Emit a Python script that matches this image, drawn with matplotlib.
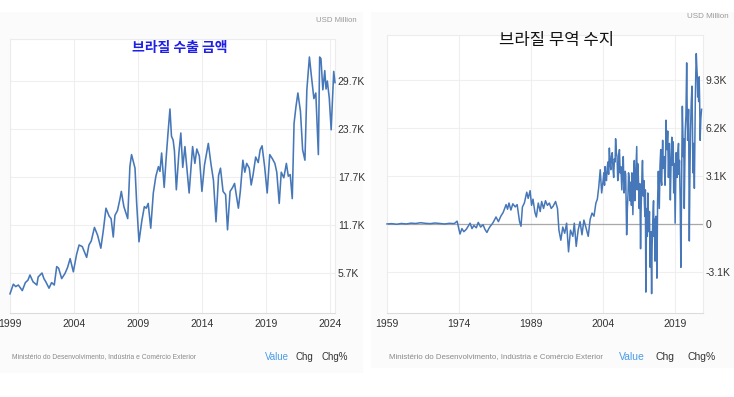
import matplotlib
matplotlib.use("Agg")
import matplotlib.pyplot as plt
from matplotlib.patches import Rectangle

# ---------------- data ----------------
exp_years = [1999.0, 1999.26, 1999.45, 1999.65, 1999.96, 2000.2, 2000.4, 2000.56, 2000.8, 2001.1,
             2001.2, 2001.5, 2001.65, 2001.8, 2002.05, 2002.25, 2002.46, 2002.65, 2002.8, 2003.04,
             2003.3, 2003.5, 2003.7, 2003.95, 2004.2, 2004.4, 2004.65, 2004.99, 2005.17, 2005.35,
             2005.6, 2005.85, 2006.1, 2006.3, 2006.5, 2006.75, 2006.9, 2007.07, 2007.2, 2007.4,
             2007.6, 2007.7, 2007.9, 2008.2, 2008.37, 2008.5, 2008.77, 2008.9, 2009.08, 2009.3,
             2009.5, 2009.65, 2009.8, 2010.0, 2010.2, 2010.4, 2010.6, 2010.72, 2010.85, 2011.05,
             2011.2, 2011.35, 2011.5, 2011.62, 2011.75, 2011.85, 2012.0, 2012.2, 2012.35, 2012.5,
             2012.67, 2012.8, 2013.0, 2013.27, 2013.45, 2013.6, 2013.8, 2014.0, 2014.2, 2014.37,
             2014.5, 2014.7, 2014.9, 2015.1, 2015.3, 2015.45, 2015.65, 2015.85, 2016.0, 2016.2,
             2016.4, 2016.55, 2016.7, 2016.85, 2017.0, 2017.2, 2017.35, 2017.5, 2017.7, 2017.85,
             2018.0, 2018.2, 2018.4, 2018.55, 2018.7, 2018.9, 2019.1, 2019.3, 2019.5, 2019.7,
             2019.85, 2020.04, 2020.2, 2020.4, 2020.6, 2020.75, 2020.9, 2021.06, 2021.2, 2021.35,
             2021.5, 2021.7, 2021.87, 2022.05, 2022.2, 2022.4, 2022.55, 2022.75, 2022.9, 2023.1,
             2023.2, 2023.3, 2023.45, 2023.6, 2023.7, 2023.8, 2023.95, 2024.1, 2024.3, 2024.4]
exp_values = [3.1, 4.3, 4.0, 4.2, 3.5, 4.5, 4.8, 5.45, 4.6, 4.2,
              5.2, 5.7, 5.0, 4.6, 3.8, 4.5, 4.2, 6.5, 6.3, 5.0,
              5.65, 6.4, 7.5, 5.85, 8.0, 9.2, 9.0, 7.65, 9.2, 9.7,
              11.4, 10.4, 8.8, 11.1, 13.8, 12.8, 12.5, 10.2, 12.9, 13.5,
              15.0, 15.9, 14.0, 12.5, 19.0, 20.5, 18.8, 14.4, 9.6, 12.2,
              14.0, 13.8, 14.4, 11.3, 15.7, 17.8, 19.0, 18.4, 20.7, 16.4,
              20.0, 23.2, 26.2, 22.8, 22.3, 21.0, 16.1, 20.7, 23.2, 18.9,
              21.5, 19.2, 15.7, 21.5, 19.4, 21.2, 20.3, 15.9, 19.2, 20.7,
              21.9, 19.4, 17.3, 12.1, 17.9, 18.8, 15.9, 15.5, 11.1, 15.9,
              16.4, 16.9, 15.3, 13.8, 15.9, 19.8, 18.3, 19.4, 18.8, 16.7,
              18.0, 20.2, 19.5, 21.1, 21.6, 19.0, 15.7, 20.5, 20.0, 19.4,
              18.3, 14.4, 18.3, 17.6, 19.4, 17.8, 18.0, 15.0, 24.4, 26.5,
              28.2, 25.9, 21.1, 19.8, 28.6, 32.7, 30.4, 27.5, 28.2, 20.5,
              32.7, 32.5, 28.6, 31.0, 28.7, 29.7, 27.6, 23.6, 30.9, 29.5]

bal_years = [1959.0, 1960.0, 1961.0, 1962.0, 1963.0, 1964.0, 1965.0, 1966.0, 1967.0, 1968.0,
             1969.0, 1970.0, 1971.0, 1972.0, 1973.0, 1973.6, 1974.2, 1974.6, 1975.0, 1975.5,
             1975.9, 1976.3, 1976.7, 1977.1, 1977.6, 1978.0, 1978.5, 1979.0, 1979.4, 1979.8,
             1980.2, 1980.5, 1980.9, 1981.2, 1981.7, 1982.2, 1982.7, 1983.2, 1983.8, 1984.1,
             1984.4, 1984.8, 1985.2, 1985.7, 1986.1, 1986.6, 1986.9, 1987.2, 1987.6, 1988.1,
             1988.4, 1988.8, 1989.1, 1989.4, 1989.8, 1990.1, 1990.5, 1990.9, 1991.2, 1991.6,
             1992.0, 1992.4, 1992.8, 1993.2, 1993.6, 1994.1, 1994.5, 1994.8, 1995.2, 1995.6,
             1996.0, 1996.4, 1996.8, 1997.2, 1997.7, 1998.0, 1998.4, 1998.8, 1999.2, 1999.6,
             2000.0, 2000.4, 2000.9, 2001.3, 2001.7, 2002.1, 2002.5, 2002.8, 2003.1, 2003.4,
             2003.7,
             2004.0, 2004.15, 2004.3, 2004.4, 2004.55, 2004.7, 2004.85, 2005.0, 2005.15, 2005.3,
             2005.45, 2005.6, 2005.75, 2005.9, 2006.05, 2006.2, 2006.35, 2006.5, 2006.6, 2006.75,
             2006.9, 2007.05, 2007.2, 2007.3, 2007.4, 2007.55, 2007.7, 2007.8, 2007.9, 2008.05,
             2008.2, 2008.35, 2008.5, 2008.6, 2008.7, 2008.8, 2008.9, 2009.05, 2009.2, 2009.3,
             2009.4, 2009.5, 2009.6, 2009.75, 2009.9, 2010.0, 2010.1, 2010.2, 2010.35, 2010.5,
             2010.6, 2010.7, 2010.85, 2011.0, 2011.1, 2011.2, 2011.3, 2011.4, 2011.5, 2011.65,
             2011.8, 2011.9, 2012.0, 2012.1, 2012.2, 2012.35, 2012.5, 2012.6, 2012.7, 2012.8,
             2012.9, 2013.0, 2013.1, 2013.2, 2013.3, 2013.4, 2013.5, 2013.65, 2013.8, 2013.95,
             2014.1, 2014.2, 2014.3, 2014.4, 2014.5, 2014.6, 2014.7, 2014.8, 2014.9, 2015.0,
             2015.1, 2015.2, 2015.35, 2015.5, 2015.6, 2015.7, 2015.85, 2016.0, 2016.1, 2016.2,
             2016.3, 2016.4, 2016.55, 2016.7, 2016.8, 2016.9, 2017.0, 2017.1, 2017.2, 2017.3,
             2017.45, 2017.6, 2017.7, 2017.8, 2017.9, 2018.0, 2018.15, 2018.3, 2018.4, 2018.5,
             2018.6, 2018.7, 2018.85, 2019.0, 2019.1, 2019.2, 2019.3, 2019.4, 2019.55, 2019.7,
             2019.8, 2019.9, 2020.05, 2020.2, 2020.35, 2020.5, 2020.6, 2020.7, 2020.8, 2020.9,
             2021.0, 2021.1, 2021.25, 2021.4, 2021.5, 2021.6, 2021.7, 2021.8, 2021.9, 2021.95,
             2022.05, 2022.2, 2022.35, 2022.5, 2022.6, 2022.7, 2022.85, 2023.0, 2023.1, 2023.2,
             2023.3, 2023.4, 2023.5, 2023.6, 2023.7, 2023.8, 2023.9, 2024.0, 2024.1, 2024.2,
             2024.35, 2024.5]
bal_values = [0.0, 0.02, -0.02, 0.03, 0.0, 0.05, 0.03, 0.08, 0.04, 0.02,
              0.06, 0.03, 0.0, 0.04, 0.02, 0.18, -0.65, -0.3, -0.5, -0.35,
              -0.15, 0.05, -0.3, -0.1, -0.25, 0.1, -0.2, -0.05, -0.35, -0.55,
              -0.3, -0.15, 0.0, 0.15, 0.45, 0.15, 0.5, 0.75, 1.25, 0.95,
              1.35, 0.9, 1.3, 1.1, 1.25, 0.15, -0.15, 1.1, 1.35, 2.05,
              1.65, 2.15, 1.2, 1.6, 0.75, 0.45, 1.35, 0.8, 1.45, 1.0,
              1.5, 1.2, 1.35, 1.0, 1.15, 1.45, 1.0, -0.4, -1.05, -0.2,
              -0.6, 0.05, -1.8, -0.4, -0.8, 0.05, -1.45, -0.4, 0.15, -0.7,
              0.25, -0.2, -0.8, 0.3, 0.7, 0.5, 1.35, 1.6, 2.4, 3.5,
              2.0,
              2.8, 3.3, 2.5, 3.7, 3.0, 2.8, 3.6, 4.0, 3.2, 4.9,
              3.9, 3.5, 4.4, 4.6, 3.6, 3.0, 4.2, 4.0, 5.5, 4.6,
              4.35, 2.8, 3.2, 4.5, 4.8, 3.3, 3.7, 2.9, 2.2, 3.5,
              4.35, 2.0, 2.4, 3.4, 3.2, 1.2, -0.7, 1.0, 2.0, 3.3,
              3.0, 2.4, 1.5, 2.7, 1.2, 3.3, 1.8, 0.6, 2.9, 4.1,
              1.5, 2.2, 3.6, 5.0, 2.2, 3.9, 3.3, 2.5, 1.0, 2.6,
              -1.6, 0.8, 2.0, 3.3, 4.1, 1.8, 2.8, 1.3, 0.5, 2.2,
              -4.4, -1.0, 1.0, -0.8, 2.0, 1.0, -0.5, 0.8, -2.8, -0.5,
              -4.5, -1.5, -0.3, 0.8, 1.5, -0.8, 0.3, -2.4, -0.2, 0.5,
              -1.0, -3.5, 1.5, 3.4, 2.2, 1.0, 3.8, 4.8, 2.8, 2.5,
              4.3, 5.4, 3.6, 4.35, 3.5, 2.5, 4.0, 6.7, 5.5, 4.8,
              6.0, 3.0, 4.4, 5.2, 3.4, 1.55, 4.0, 5.6, 3.8, 4.35,
              5.3, 2.0, 3.9, 0.05, 2.5, 4.6, 3.6, 3.0, 4.5, 5.2,
              3.2, 4.1, 1.5, -2.8, 3.0, 7.6, 5.8, 4.35, 5.5, 1.0,
              3.5, 6.0, 7.0, 10.4, 7.5, 5.4, 6.3, 7.4, 2.0, -1.1,
              2.5, 6.0, 7.8, 8.9, 6.5, 3.3, 5.2, 2.3, 5.5, 8.0,
              9.7, 11.0, 10.2, 9.6, 8.2, 8.8, 7.9, 9.5, 8.0, 5.4,
              6.8, 7.4]

exp_yticks = [5.7, 11.7, 17.7, 23.7, 29.7]
exp_yticklabels = ["5.7K", "11.7K", "17.7K", "23.7K", "29.7K"]
exp_xticks = [1999, 2004, 2009, 2014, 2019, 2024]

bal_yticks = [-3.1, 0, 3.1, 6.2, 9.3]
bal_yticklabels = ["-3.1K", "0", "3.1K", "6.2K", "9.3K"]
bal_xticks = [1959, 1974, 1989, 2004, 2019]

title_left = "브라질 수출 금액"
title_right = "브라질 무역 수지"
unit = "USD Million"
source = "Ministério do Desenvolvimento, Indústria e Comércio Exterior"
tabs = ["Value", "Chg", "Chg%"]

# ---------------- style ----------------
W, H = 734, 397
LINE = "#4677b8"
GRID = "#efefef"
TICKC = "#333333"
SANS = ["Liberation Sans", "DejaVu Sans"]
CJK = ["Noto Sans CJK KR", "DejaVu Sans"]

fig = plt.figure(figsize=(W / 100, H / 100), dpi=100)
fig.patch.set_facecolor("white")


def fx(x):
    return x / W


def fy(y):
    return 1 - y / H


# faint panel backgrounds (behind the axes)
for (x0, y0, x1, y1) in [(0, 12, 363, 373), (371, 12, 734, 368)]:
    r = Rectangle((fx(x0), fy(y1)), (x1 - x0) / W, (y1 - y0) / H,
                  transform=fig.transFigure, facecolor="#fbfbfb",
                  edgecolor="none", zorder=-5)
    fig.add_artist(r)


def px_axes(x0, y0, x1, y1):
    ax = fig.add_axes([fx(x0), fy(y1), (x1 - x0) / W, (y1 - y0) / H])
    ax.set_zorder(2)
    return ax


def style(ax, xticks, yticks, yticklabels):
    ax.set_facecolor("white")
    for s in ["left", "top", "right"]:
        ax.spines[s].set_color("#ececec")
        ax.spines[s].set_linewidth(0.8)
    ax.spines["bottom"].set_color("#dcdcdc")
    ax.spines["bottom"].set_linewidth(0.8)
    ax.set_xticks(xticks)
    ax.set_xticklabels([str(t) for t in xticks])
    ax.set_yticks(yticks)
    ax.set_yticklabels(yticklabels)
    ax.yaxis.tick_right()
    ax.tick_params(axis="both", length=0, colors=TICKC, labelsize=7.5)
    ax.tick_params(axis="y", pad=2)
    ax.tick_params(axis="x", pad=4)
    for lab in ax.get_xticklabels() + ax.get_yticklabels():
        lab.set_family(SANS)
    ax.grid(True, color=GRID, linewidth=0.8)
    ax.set_axisbelow(True)


# left panel
ax1 = px_axes(10, 39, 335, 313)
ax1.plot(exp_years, exp_values, color=LINE, linewidth=1.15, clip_on=False, zorder=3)
ax1.set_xlim(1999.0, 2024.4)
ax1.set_ylim(0.7, 34.95)
style(ax1, exp_xticks, exp_yticks, exp_yticklabels)

# right panel
ax2 = px_axes(387, 35, 703, 313)
ax2.axhline(0, color="#a8a8a8", linewidth=0.9, zorder=2)
ax2.plot(bal_years, bal_values, color=LINE, linewidth=1.1, clip_on=False, zorder=3)
ax2.set_xlim(1959.0, 2024.8)
ax2.set_ylim(-5.75, 12.2)
style(ax2, bal_xticks, bal_yticks, bal_yticklabels)

# titles
fig.text(fx(180), fy(48), title_left, color="#1f1fe6", fontsize=10,
         family=CJK, fontweight="bold", ha="center", va="center", zorder=5)
fig.text(fx(557), fy(40), title_right, color="#111111", fontsize=12,
         family=CJK, ha="center", va="center", zorder=5)

# unit labels
fig.text(fx(357), fy(21), unit, color="#999999", fontsize=5.6, family=SANS,
         ha="right", va="center")
fig.text(fx(729), fy(17), unit, color="#999999", fontsize=5.8, family=SANS,
         ha="right", va="center")

# source lines
fig.text(fx(12), fy(357), source, color="#8a8a8a", fontsize=4.9, family=SANS,
         ha="left", va="center")
fig.text(fx(389), fy(357), source, color="#8a8a8a", fontsize=5.7, family=SANS,
         ha="left", va="center")

# tabs
tab_colors = ["#4a9be8", "#333333", "#333333"]
for x, t, c in zip([265, 296, 322], tabs, tab_colors):
    fig.text(fx(x), fy(357), t, color=c, fontsize=7, family=SANS, ha="left", va="center")
for x, t, c in zip([619, 656, 687], tabs, tab_colors):
    fig.text(fx(x), fy(357), t, color=c, fontsize=7.5, family=SANS, ha="left", va="center")

fig.savefig("out.png", dpi=100)
